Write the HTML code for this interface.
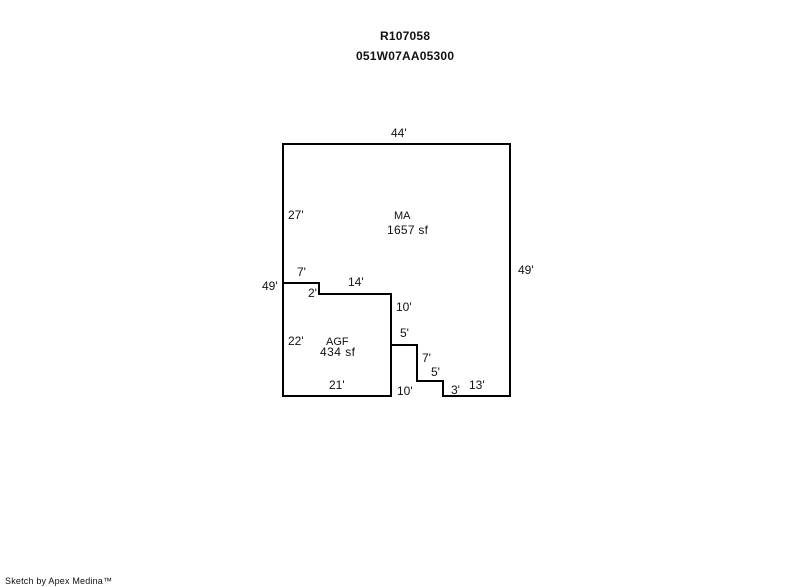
<!DOCTYPE html>
<html>
<head>
<meta charset="utf-8">
<style>
html,body{margin:0;padding:0;background:#fff;width:800px;height:587px;overflow:hidden}
svg{display:block}
text{font-family:"Liberation Sans",sans-serif;font-size:12px;fill:#111}
.t{font-weight:bold}
</style>
</head>
<body>
<svg width="800" height="587" viewBox="0 0 800 587" xmlns="http://www.w3.org/2000/svg">
<rect width="800" height="587" fill="#fff"/>
<g fill="none" stroke="#000" stroke-width="2" stroke-linecap="square">
<path d="M283 144H510V396H443V381H417V345H391"/>
<path d="M283 144V396H391V294H319V283H283"/>
</g>
<text class="t" x="380" y="40" textLength="50">R107058</text>
<text class="t" x="356" y="60" textLength="98">051W07AA05300</text>
<text x="391" y="137">44'</text>
<text x="288" y="219">27'</text>
<text x="394" y="219" style="font-size:11px">MA</text>
<text x="387" y="234" textLength="41">1657 sf</text>
<text x="297" y="276">7'</text>
<text x="348" y="286">14'</text>
<text x="518" y="274">49'</text>
<text x="262" y="290">49'</text>
<text x="308" y="297">2'</text>
<text x="396" y="311">10'</text>
<text x="400" y="337">5'</text>
<text x="288" y="345">22'</text>
<text x="326" y="345" style="font-size:11px">AGF</text>
<text x="320" y="356" textLength="35">434 sf</text>
<text x="422" y="362">7'</text>
<text x="431" y="376">5'</text>
<text x="329" y="389">21'</text>
<text x="469" y="389">13'</text>
<text x="397" y="395">10'</text>
<text x="451" y="394">3'</text>
<text x="5" y="584" style="font-size:9px" textLength="107">Sketch by Apex Medina™</text>
</svg>
</body>
</html>
